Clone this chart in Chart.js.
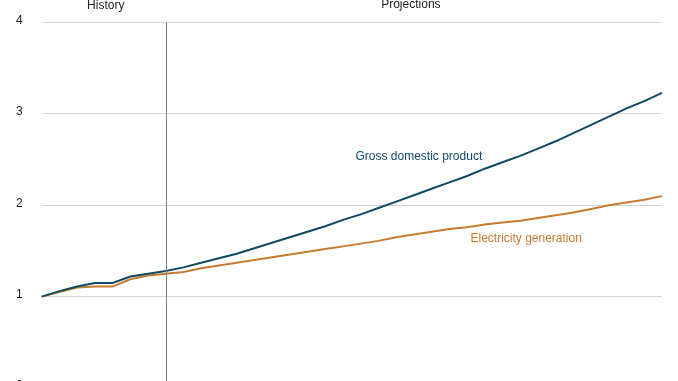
<!DOCTYPE html>
<html>
<head>
<meta charset="utf-8">
<script src="https://cdn.jsdelivr.net/npm/chart.js@4/dist/chart.umd.min.js"></script>
<style>
  html, body { margin: 0; padding: 0; background: #fff; overflow: hidden; }
  #wrap { width: 678px; height: 400px; }
</style>
</head>
<body>
<div id="wrap"><canvas id="c" width="678" height="400"></canvas></div>
<script>
// ---- data ----
const years = [2015,2016,2017,2018,2019,2020,2021,2022,2023,2024,2025,2026,2027,2028,2029,2030,2031,2032,2033,2034,2035,2036,2037,2038,2039,2040,2041,2042,2043,2044,2045,2046,2047,2048,2049,2050];
const gdp = [1.00,1.06,1.11,1.15,1.15,1.22,1.25,1.28,1.32,1.37,1.42,1.47,1.53,1.59,1.65,1.71,1.77,1.84,1.90,1.97,2.04,2.11,2.18,2.25,2.32,2.40,2.47,2.54,2.62,2.70,2.79,2.88,2.97,3.06,3.14,3.23];
const electricity = [1.00,1.05,1.10,1.11,1.11,1.19,1.23,1.25,1.27,1.31,1.34,1.37,1.40,1.43,1.46,1.49,1.52,1.55,1.58,1.61,1.65,1.68,1.71,1.74,1.76,1.79,1.81,1.83,1.86,1.89,1.92,1.96,2.00,2.03,2.06,2.10];
const yTicks = [0,1,2,3,4];
const historyEndYear = 2022;
const seriesNames = ['Gross domestic product', 'Electricity generation'];
const periodLabels = ['History', 'Projections'];

const BLUE = '#0e4a66';
const ORANGE = '#c67b2f';

const overlay = {
  id: 'overlay',
  afterDatasetsDraw(chart) {
    const { ctx, chartArea, scales } = chart;
    const x = scales.x, y = scales.y;
    const xDiv = x.getPixelForValue(years.indexOf(historyEndYear));
    ctx.save();
    ctx.strokeStyle = '#808080';
    ctx.lineWidth = 1;
    ctx.beginPath();
    ctx.moveTo(Math.round(xDiv) + 0.5, y.getPixelForValue(4));
    ctx.lineTo(Math.round(xDiv) + 0.5, chartArea.bottom);
    ctx.stroke();
    ctx.font = '12px "Liberation Sans", Arial, sans-serif';
    ctx.fillStyle = '#222';
    ctx.textAlign = 'center';
    ctx.textBaseline = 'middle';
    ctx.fillText(periodLabels[0], (chartArea.left + xDiv) / 2 + 2, 6);
    ctx.fillText(periodLabels[1], (xDiv + chartArea.right) / 2 - 3, 5);
    ctx.textAlign = 'left';
    ctx.fillStyle = BLUE;
    ctx.fillText(seriesNames[0], 355.5, 157);
    ctx.fillStyle = ORANGE;
    ctx.fillText(seriesNames[1], 470.5, 239);
    ctx.restore();
  }
};

new Chart(document.getElementById('c'), {
  type: 'line',
  data: {
    labels: years,
    datasets: [
      { label: seriesNames[0], data: gdp, borderColor: BLUE, borderWidth: 2, pointRadius: 0, tension: 0, fill: false },
      { label: seriesNames[1], data: electricity, borderColor: ORANGE, borderWidth: 2, pointRadius: 0, tension: 0, fill: false }
    ]
  },
  options: {
    responsive: false,
    devicePixelRatio: 1,
    animation: false,
    layout: { padding: { top: 22.5, right: 16, bottom: 12, left: 0 } },
    plugins: { legend: { display: false }, tooltip: { enabled: false } },
    scales: {
      x: { display: false },
      y: {
        min: 0, max: 4,
        afterBuildTicks(scale) { scale.ticks = yTicks.map(v => ({ value: v })); },
        afterFit(scale) { scale.width = 41.7; scale.paddingTop = 0; scale.paddingBottom = 0; },
        grid: { color: '#d4d4d4', lineWidth: 1, drawTicks: false },
        border: { display: false },
        ticks: {
          padding: 19,
          labelOffset: -2,
          color: '#222',
          font: { family: '"Liberation Sans", Arial, sans-serif', size: 12 }
        }
      }
    }
  },
  plugins: [overlay]
});
</script>
</body>
</html>
